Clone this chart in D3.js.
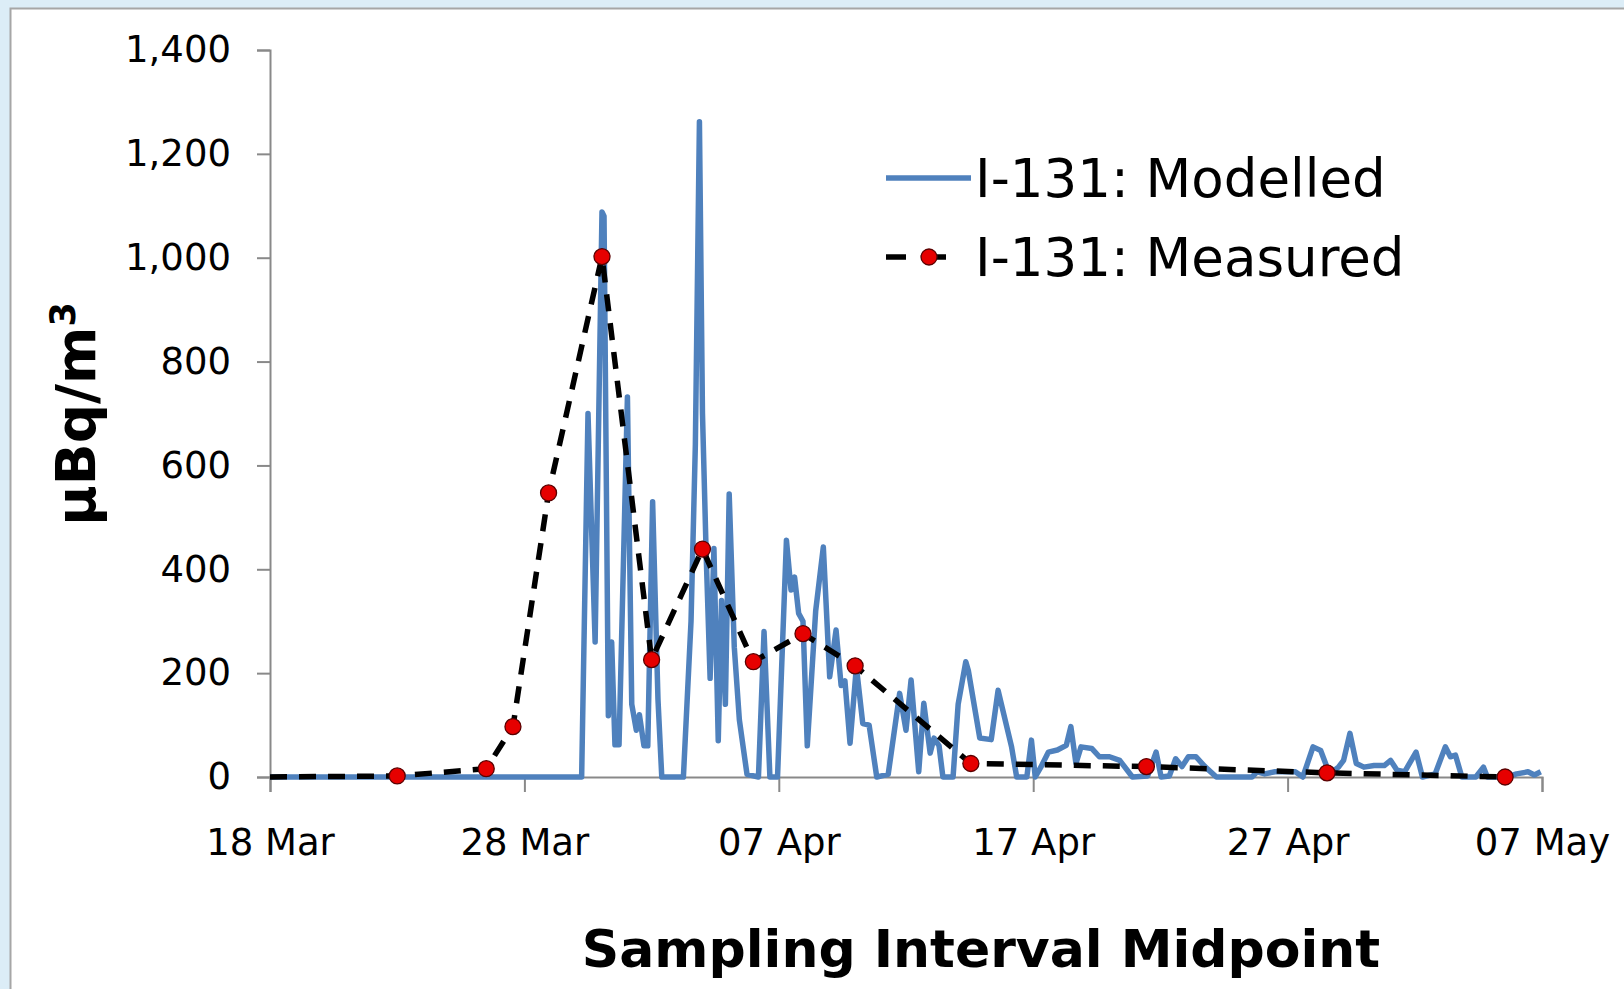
<!DOCTYPE html>
<html>
<head>
<meta charset="utf-8">
<script src="https://cdn.jsdelivr.net/npm/d3@7"></script>
<style>
  html, body { margin: 0; padding: 0; background: #dcedf7; }
  svg { display: block; }
</style>
</head>
<body>
<svg id="chart" width="1624" height="989"></svg>
<script>
// day offsets are counted from 18 Mar 2011
const startDate = Date.UTC(2011, 2, 18);
const xTickDays = [0, 10, 20, 30, 40, 50];
const yTickValues = [0, 200, 400, 600, 800, 1000, 1200, 1400];
const seriesNames = ["I-131: Modelled", "I-131: Measured"];

const modelDays = [
  0, 12.25, 12.5, 12.78, 13.05, 13.13, 13.3, 13.43, 13.56, 13.72,
  14.05, 14.22, 14.4, 14.52, 14.7, 14.85, 15.04, 15.25, 15.4, 16.25,
  16.55, 16.72, 16.88, 17.0, 17.15, 17.3, 17.45, 17.62, 17.75, 17.9,
  18.05, 18.25, 18.45, 18.75, 19.2, 19.42, 19.65, 19.95, 20.3, 20.48,
  20.62, 20.78, 20.95, 21.12, 21.45, 21.75, 22.0, 22.25, 22.45, 22.6,
  22.8, 23.05, 23.3, 23.55, 23.85, 24.3, 24.75, 25.0, 25.2, 25.5,
  25.7, 25.95, 26.1, 26.3, 26.45, 26.85, 27.05, 27.35, 27.45, 27.9,
  28.35, 28.62, 29.15, 29.35, 29.75, 29.93, 30.08, 30.3, 30.6, 30.95,
  31.3, 31.48, 31.68, 31.88, 32.3, 32.6, 33.0, 33.4, 33.9, 34.5,
  34.83, 35.03, 35.35, 35.6, 35.85, 36.1, 36.4, 36.75, 37.2, 38.6,
  38.8, 39.1, 39.5, 40.0, 40.3, 40.6, 41.0, 41.3, 41.65, 42.0,
  42.2, 42.45, 42.7, 43.0, 43.4, 43.8, 44.05, 44.3, 44.6, 45.05,
  45.3, 45.8, 46.2, 46.4, 46.6, 46.85, 47.4, 47.7, 47.85, 48.6,
  49.0, 49.45, 49.7, 49.95
];
const modelValues = [
  0, 0, 700, 260, 1088, 1080, 118, 260, 62, 62,
  732, 140, 90, 120, 60, 60, 530, 150, 0, 0,
  300, 640, 1262, 700, 420, 190, 440, 70, 340, 140,
  545, 250, 110, 5, 0, 280, 0, 0, 456, 360,
  385, 315, 300, 60, 320, 443, 193, 283, 176, 185,
  65, 212, 103, 100, 0, 5, 161, 90, 187, 10,
  142, 46, 75, 60, 0, 0, 140, 222, 205, 75,
  72, 167, 58, 0, 0, 71, 0, 19, 48, 52,
  61, 97, 26, 58, 55, 39, 39, 32, 0, 2,
  48, 0, 2, 35, 20, 39, 39, 20, 0, 0,
  10, 6, 10, 10, 10, 0, 58, 51, 6, 19,
  32, 84, 26, 19, 22, 22, 32, 13, 10, 48,
  0, 6, 58, 39, 42, 0, 0, 19, 0, 0,
  6, 10, 4, 10
];

// first entry starts the dashed line at the axis, it has no marker
const measuredDays = [0, 5.0, 8.5, 9.55, 10.95, 13.05, 15.0, 17.0, 19.0, 20.95, 23.0, 27.55, 34.45, 41.55, 48.55];
const measuredValues = [0, 2, 16, 97, 547, 1002, 226, 439, 222, 276, 214, 26, 20, 8, 0];

const toDate = (d) => new Date(startDate + d * 864e5);
const model = modelDays.map((d, i) => ({ date: toDate(d), value: modelValues[i] }));
const measured = measuredDays.map((d, i) => ({ date: toDate(d), value: measuredValues[i] }));

const svg = d3.select("#chart");
const margin = { left: 270, right: 1542, top: 50, bottom: 777 };
const blue = "#4f81bd";
const red = "#e60000";
const axisGrey = "#898989";
const tickFont = "'DejaVu Sans', Verdana, sans-serif";

// white chart area
svg.append("rect")
  .attr("x", 10.5).attr("y", 8.5)
  .attr("width", 1640).attr("height", 1000)
  .attr("fill", "#ffffff")
  .attr("stroke", "#a6a6a6")
  .attr("stroke-width", 2);

const x = d3.scaleUtc()
  .domain([toDate(0), toDate(50)])
  .range([margin.left, margin.right]);
const y = d3.scaleLinear()
  .domain([0, 1400])
  .range([margin.bottom, margin.top]);

// y axis
const yAxis = svg.append("g")
  .attr("transform", `translate(${margin.left},0)`)
  .call(d3.axisLeft(y).tickValues(yTickValues).tickFormat(d3.format(",")).tickSize(13).tickPadding(26));
yAxis.select(".domain").attr("stroke", axisGrey).attr("stroke-width", 2);
yAxis.selectAll(".tick line").attr("stroke", axisGrey).attr("stroke-width", 2);
yAxis.selectAll(".tick text")
  .attr("fill", "#000")
  .style("font-family", tickFont)
  .style("font-size", "37px");

// x axis
const xAxis = svg.append("g")
  .attr("transform", `translate(0,${margin.bottom})`)
  .call(d3.axisBottom(x).tickValues(xTickDays.map(toDate)).tickFormat(d3.utcFormat("%d %b")).tickSize(15).tickPadding(37));
xAxis.select(".domain").attr("stroke", axisGrey).attr("stroke-width", 2);
xAxis.selectAll(".tick line").attr("stroke", axisGrey).attr("stroke-width", 2);
xAxis.selectAll(".tick text")
  .attr("fill", "#000")
  .style("font-family", tickFont)
  .style("font-size", "37px");

// axis titles
svg.append("text")
  .attr("transform", "translate(95,414) rotate(-90)")
  .attr("text-anchor", "middle")
  .style("font-family", tickFont)
  .style("font-weight", "bold")
  .style("font-size", "55px")
  .text("µBq/m")
  .append("tspan")
  .attr("baseline-shift", "super")
  .style("font-size", "35px")
  .text("3");

svg.append("text")
  .attr("x", 981).attr("y", 967)
  .attr("text-anchor", "middle")
  .style("font-family", tickFont)
  .style("font-weight", "bold")
  .style("font-size", "52px")
  .text("Sampling Interval Midpoint");

// series
const line = d3.line().x((d) => x(d.date)).y((d) => y(d.value));

svg.append("path")
  .datum(model)
  .attr("d", line)
  .attr("fill", "none")
  .attr("stroke", blue)
  .attr("stroke-width", 5.5)
  .attr("stroke-linejoin", "round");

svg.append("path")
  .datum(measured)
  .attr("d", line)
  .attr("fill", "none")
  .attr("stroke", "#000")
  .attr("stroke-width", 5.5)
  .attr("stroke-dasharray", "17,12");

svg.selectAll(".marker")
  .data(measured.filter((d, i) => i > 0))
  .enter()
  .append("circle")
  .attr("class", "marker")
  .attr("cx", (d) => x(d.date))
  .attr("cy", (d) => y(d.value))
  .attr("r", 8)
  .attr("fill", red)
  .attr("stroke", "#5a0000")
  .attr("stroke-width", 1.3);

// legend
const legend = svg.append("g");
legend.append("line")
  .attr("x1", 886).attr("x2", 971).attr("y1", 178).attr("y2", 178)
  .attr("stroke", blue).attr("stroke-width", 5.5);
legend.append("line")
  .attr("x1", 886).attr("x2", 960).attr("y1", 257).attr("y2", 257)
  .attr("stroke", "#000").attr("stroke-width", 5.5)
  .attr("stroke-dasharray", "20,16,24");
legend.append("circle")
  .attr("cx", 929).attr("cy", 257).attr("r", 8)
  .attr("fill", red).attr("stroke", "#5a0000").attr("stroke-width", 1.3);
legend.selectAll(".legend-label")
  .data(seriesNames)
  .enter()
  .append("text")
  .attr("class", "legend-label")
  .attr("x", 975)
  .attr("y", (d, i) => 178 + i * 79)
  .attr("dy", "0.36em")
  .style("font-family", tickFont)
  .style("font-size", "53px")
  .text((d) => d);
</script>
</body>
</html>
